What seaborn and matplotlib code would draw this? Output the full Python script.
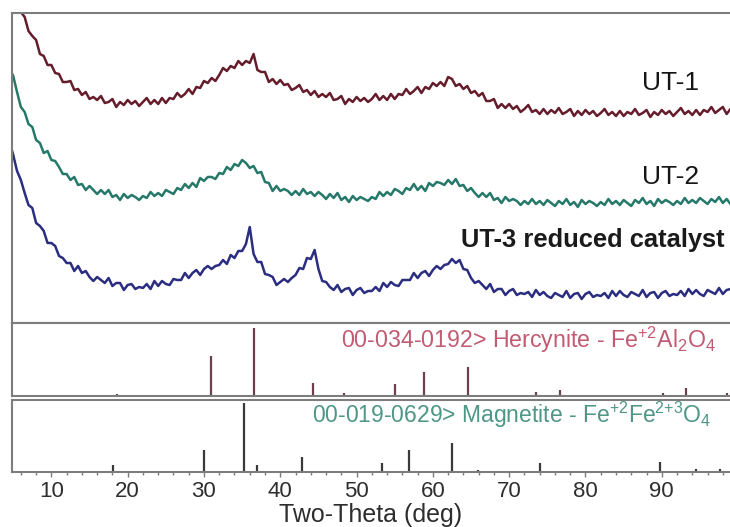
import numpy as np
import pandas as pd
import matplotlib
matplotlib.use("Agg")
import matplotlib.pyplot as plt
import seaborn as sns

# Scan start / step of the diffractograms (2-theta, degrees)
SCAN_START = 4.5
SCAN_STEP = 0.5

# Intensities (a.u.) of the three samples
ut1 = [347, 332, 326, 312, 307, 293, 288, 284, 270, 268, 259, 259, 251, 250, 242, 242, 243, 234, 235, 229,
       232, 225, 227, 224, 228, 221, 222, 225, 217, 222, 219, 224, 220, 223, 218, 222, 226, 220, 224, 220,
       226, 221, 226, 225, 231, 227, 230, 235, 230, 237, 236, 243, 241, 246, 243, 249, 256, 253, 258, 256,
       263, 259, 263, 261, 270, 254, 252, 252, 242, 245, 240, 244, 239, 240, 234, 236, 239, 232, 234, 229,
       233, 227, 230, 227, 231, 224, 225, 228, 220, 225, 222, 227, 223, 226, 222, 225, 230, 224, 228, 224,
       230, 225, 230, 229, 235, 230, 233, 237, 231, 237, 235, 241, 238, 242, 238, 247, 245, 238, 240, 235,
       238, 231, 233, 228, 231, 223, 223, 225, 216, 220, 216, 220, 215, 218, 212, 215, 219, 212, 214, 210,
       215, 210, 214, 211, 216, 210, 212, 215, 208, 213, 209, 214, 210, 213, 208, 211, 215, 209, 212, 208,
       213, 208, 212, 210, 215, 209, 211, 214, 207, 212, 209, 214, 210, 213, 208, 212, 216, 210, 213, 209,
       214, 209, 214, 212, 217, 211, 214, 217, 210, 215]

ut2 = [256, 248, 232, 217, 212, 200, 197, 184, 181, 171, 173, 164, 163, 157, 150, 150, 144, 147, 139, 140,
       134, 138, 134, 130, 134, 130, 134, 127, 129, 124, 130, 126, 129, 127, 124, 128, 126, 132, 128, 131,
       128, 134, 132, 130, 136, 134, 140, 136, 141, 137, 146, 143, 147, 147, 145, 151, 150, 157, 154, 160,
       158, 164, 161, 156, 158, 151, 152, 142, 141, 133, 138, 133, 135, 133, 129, 133, 129, 135, 130, 132,
       128, 132, 129, 125, 130, 126, 131, 124, 127, 122, 128, 124, 127, 125, 123, 127, 125, 132, 128, 132,
       129, 135, 133, 130, 136, 134, 140, 134, 138, 133, 141, 138, 142, 141, 139, 144, 140, 145, 138, 139,
       133, 136, 131, 127, 131, 127, 131, 124, 126, 121, 127, 123, 125, 123, 119, 123, 120, 125, 120, 123,
       119, 124, 121, 118, 123, 120, 125, 119, 122, 117, 124, 120, 123, 121, 118, 122, 119, 125, 120, 123,
       119, 124, 121, 118, 124, 121, 126, 120, 123, 118, 125, 121, 124, 122, 119, 123, 120, 126, 121, 124,
       121, 126, 123, 120, 125, 122, 127, 121, 125, 120]

ut3 = [183, 169, 153, 144, 131, 119, 116, 101, 98, 93, 81, 81, 78, 68, 66, 61, 61, 53, 58, 51,
       53, 47, 43, 47, 44, 41, 46, 38, 41, 41, 34, 39, 40, 35, 37, 36, 40, 35, 43, 38,
       43, 40, 39, 45, 44, 44, 51, 46, 51, 54, 49, 55, 58, 55, 58, 59, 64, 60, 69, 66,
       73, 73, 80, 97, 70, 62, 62, 50, 49, 47, 39, 42, 45, 42, 46, 49, 56, 55, 66, 65,
       74, 55, 43, 42, 37, 34, 39, 32, 35, 36, 29, 34, 36, 31, 33, 33, 37, 33, 41, 37,
       42, 39, 38, 44, 44, 44, 51, 46, 51, 53, 48, 54, 58, 55, 59, 60, 65, 61, 64, 55,
       54, 46, 41, 43, 39, 35, 40, 32, 35, 35, 29, 33, 35, 29, 31, 30, 32, 27, 34, 29,
       32, 28, 26, 31, 29, 27, 33, 26, 30, 31, 25, 30, 32, 27, 29, 28, 31, 26, 33, 28,
       33, 29, 27, 32, 30, 28, 34, 27, 31, 32, 26, 31, 33, 28, 30, 29, 33, 28, 35, 30,
       34, 30, 28, 34, 32, 30, 36, 30, 34, 35]

sample_names = ["UT-1", "UT-2", "UT-3 reduced catalyst"]
sample_colors = ["#651c2b", "#26796a", "#2b2e80"]

# Reference patterns: positions (2-theta) and relative intensities (%)
hercynite_pos = [18.6, 30.9, 36.5, 44.3, 48.4, 55.0, 58.9, 64.6, 73.5, 76.6, 90.2, 93.2, 98.5]
hercynite_int = [3, 59, 100, 19, 4, 18, 35, 43, 6, 9, 4, 12, 4]
magnetite_pos = [18.1, 30.0, 35.3, 36.9, 42.9, 53.3, 56.9, 62.5, 65.9, 74.0, 89.8, 94.5, 97.6]
magnetite_int = [10, 32, 100, 10, 22, 13, 32, 42, 3, 13, 14, 4, 4]

x_ticks = [10, 20, 30, 40, 50, 60, 70, 80, 90]

sns.set_style("white")
plt.rcParams["font.family"] = ["Liberation Sans", "DejaVu Sans"]
plt.rcParams["mathtext.fontset"] = "custom"
plt.rcParams["mathtext.rm"] = "Liberation Sans"
plt.rcParams["mathtext.it"] = "Liberation Sans"
plt.rcParams["mathtext.default"] = "regular"

frame_col = "#7d7d7d"
XLIM = (4.84, 98.94)

fig = plt.figure(figsize=(7.30, 5.27), dpi=100)
ax_top = fig.add_axes([0.01644, 0.38710, 0.98356, 0.58824])
ax_her = fig.add_axes([0.01644, 0.24858, 0.98356, 0.13852])
ax_mag = fig.add_axes([0.01644, 0.10436, 0.98356, 0.13662])

rows = []
for name, vals in zip(sample_names, [ut1, ut2, ut3]):
    tt = SCAN_START + SCAN_STEP * np.arange(len(vals))
    rows.append(pd.DataFrame({"two_theta": tt, "counts": vals, "sample": name}))
df = pd.concat(rows, ignore_index=True)

sns.lineplot(data=df, x="two_theta", y="counts", hue="sample",
             palette=dict(zip(sample_names, sample_colors)),
             estimator=None, sort=False, lw=1.8, legend=False, ax=ax_top)

ax_top.text(87.4, 240.5, "UT-1", fontsize=19, color="#151515", ha="left", va="center")
ax_top.text(87.4, 146.5, "UT-2", fontsize=19, color="#151515", ha="left", va="center")
ax_top.text(63.7, 84, "UT-3 reduced catalyst", fontsize=18.4, fontweight="bold",
            color="#1a1a1a", ha="left", va="center")
ax_top.set_ylim(1, 311)

# Stick patterns
ax_her.vlines(hercynite_pos, 0, hercynite_int, color="#6b3f4b", lw=1.6)
ax_her.set_ylim(0, 107)
ax_her.text(48.0, 0.774, r"00-034-0192> Hercynite - Fe$^{+2}$Al$_2$O$_4$",
            transform=ax_her.get_xaxis_transform(), fontsize=16.7, color="#c25a72",
            ha="left", va="center")

ax_mag.vlines(magnetite_pos, 0, magnetite_int, color="#3a3a3a", lw=1.6)
ax_mag.set_ylim(0, 104)
ax_mag.text(44.1, 0.80, r"00-019-0629> Magnetite - Fe$^{+2}$Fe$^{2{+}3}$O$_4$",
            transform=ax_mag.get_xaxis_transform(), fontsize=16.5, color="#4e9686",
            ha="left", va="center")

for ax in (ax_top, ax_her, ax_mag):
    ax.set_xlim(*XLIM)
    ax.set_yticks([])
    ax.set_ylabel("")
    ax.set_xlabel("")
    for side in ("top", "left", "bottom"):
        ax.spines[side].set_visible(True)
        ax.spines[side].set_color(frame_col)
        ax.spines[side].set_linewidth(1.5)
    ax.spines["right"].set_visible(False)
    ax.tick_params(axis="x", which="both", bottom=False, labelbottom=False)

ax_mag.set_xticks(x_ticks)
ax_mag.set_xticks(np.arange(6, 99, 2), minor=True)
ax_mag.tick_params(axis="x", which="major", bottom=True, labelbottom=True, direction="out",
                   length=3.5, width=1.0, color=frame_col, labelsize=16,
                   labelcolor="#2e2e2e", pad=3)
ax_mag.tick_params(axis="x", which="minor", bottom=True, direction="out",
                   length=2.5, width=1.0, color=frame_col)
ax_mag.set_xlabel("Two-Theta (deg)", fontsize=18, color="#2e2e2e", labelpad=1)

fig.savefig("out.png", dpi=100, facecolor="white")
